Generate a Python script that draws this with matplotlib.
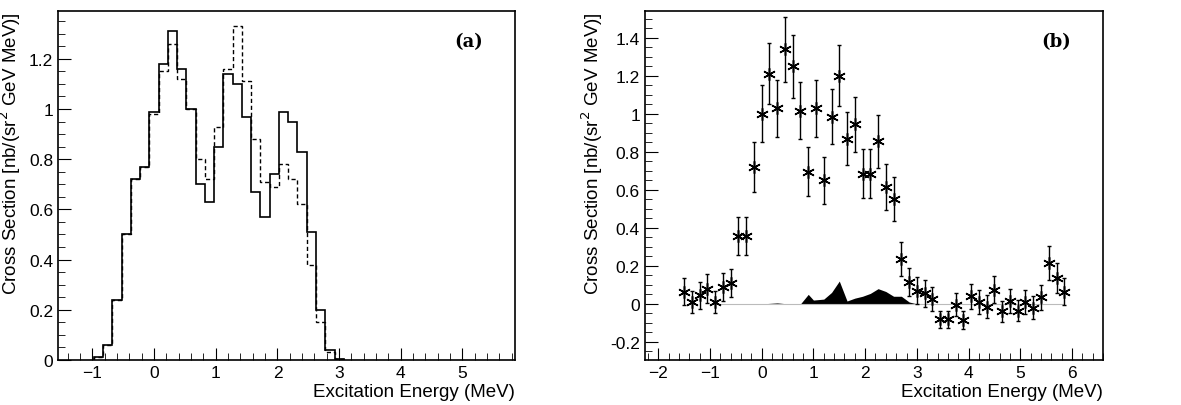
import numpy as np
import matplotlib.pyplot as plt
from matplotlib.ticker import MultipleLocator

# panel (a): histograms, bins of 0.15 MeV
edges_a = np.round(-0.975 + 0.15 * np.arange(28), 3)
solid_a = [0.01, 0.06, 0.24, 0.50, 0.72, 0.77, 0.99, 1.18, 1.31, 1.16, 1.00, 0.70, 0.63, 0.85,
           1.14, 1.10, 0.97, 0.67, 0.57, 0.74, 0.99, 0.95, 0.83, 0.51, 0.20, 0.04, 0.005]
dashed_a = [0.01, 0.06, 0.24, 0.50, 0.72, 0.77, 0.98, 1.15, 1.26, 1.12, 1.00, 0.80, 0.72, 0.93,
            1.16, 1.33, 1.11, 0.88, 0.71, 0.69, 0.78, 0.72, 0.62, 0.38, 0.15, 0.03, 0.005]

# panel (b): data points with errors
x_b = np.round(-1.5 + 0.15 * np.arange(50), 3)
y_b = [0.065, 0.01, 0.045, 0.08, 0.01, 0.09, 0.11, 0.355, 0.355, 0.72,
       1.00, 1.21, 1.03, 1.34, 1.25, 1.015, 0.695, 1.03, 0.65, 0.985,
       1.20, 0.87, 0.945, 0.685, 0.685, 0.855, 0.615, 0.55, 0.235, 0.115,
       0.07, 0.055, 0.025, -0.08, -0.08, -0.005, -0.085, 0.04, 0.01, -0.015,
       0.075, -0.04, 0.015, -0.035, 0.01, -0.02, 0.035, 0.215, 0.135, 0.065]
err_b = [0.07, 0.06, 0.07, 0.075, 0.06, 0.075, 0.075, 0.10, 0.10, 0.13,
         0.15, 0.16, 0.15, 0.17, 0.165, 0.15, 0.13, 0.15, 0.125, 0.145,
         0.16, 0.14, 0.145, 0.13, 0.13, 0.14, 0.12, 0.115, 0.09, 0.075,
         0.07, 0.07, 0.065, 0.045, 0.045, 0.06, 0.045, 0.065, 0.065, 0.06,
         0.07, 0.055, 0.065, 0.055, 0.065, 0.06, 0.065, 0.09, 0.08, 0.07]

# background contribution (filled)
x_bg = [0.0, 0.3, 0.5, 0.75, 0.9, 1.0, 1.2, 1.35, 1.5, 1.65, 1.8, 1.95, 2.1, 2.25, 2.4, 2.55, 2.7, 2.85, 3.0]
y_bg = [0.0, 0.005, 0.0, 0.0, 0.05, 0.02, 0.025, 0.06, 0.12, 0.015, 0.03, 0.04, 0.055, 0.08, 0.065, 0.04, 0.04, 0.01, 0.0]

plt.rcParams['font.family'] = ['Liberation Sans', 'DejaVu Sans']
fig = plt.figure(figsize=(11.81, 4.06), dpi=100)
ax1 = fig.add_axes([0.049, 0.111, 0.387, 0.859])
ax2 = fig.add_axes([0.546, 0.111, 0.388, 0.859])

ax1.stairs(solid_a, edges_a, color='black', lw=1.2)
ax1.stairs(dashed_a, edges_a, color='black', lw=1.0, ls=(0, (3, 2)))
ax1.set_xlim(-1.56, 5.85)
ax1.set_ylim(0, 1.39)
ax1.xaxis.set_major_locator(MultipleLocator(1))
ax1.xaxis.set_minor_locator(MultipleLocator(0.2))
ax1.yaxis.set_minor_locator(MultipleLocator(0.05))
ax1.set_yticks(np.round(np.arange(0, 1.21, 0.2), 1))
ax1.set_yticklabels(['0', '0.2', '0.4', '0.6', '0.8', '1', '1.2'])
ax1.text(0.93, 0.9, '(a)', transform=ax1.transAxes, ha='right', family='DejaVu Serif',
         fontweight='bold', fontsize=13)

ax2.plot([-1.0, 5.85], [0, 0], color='#bbbbbb', lw=0.8)
ax2.fill_between(x_bg, 0, y_bg, color='black', lw=0)
ax2.errorbar(x_b, y_b, yerr=err_b, fmt='none', ecolor='black', elinewidth=1.0, capsize=1.5)
ax2.plot(x_b, y_b, ls='none', marker=(6, 2, 0), color='black', ms=9, mew=1.1)
ax2.set_xlim(-2.26, 6.6)
ax2.set_ylim(-0.295, 1.54)
ax2.xaxis.set_major_locator(MultipleLocator(1))
ax2.xaxis.set_minor_locator(MultipleLocator(0.2))
ax2.yaxis.set_minor_locator(MultipleLocator(0.05))
ax2.set_yticks(np.round(np.arange(-0.2, 1.41, 0.2), 1))
ax2.set_yticklabels(['-0.2', '0', '0.2', '0.4', '0.6', '0.8', '1', '1.2', '1.4'])
ax2.text(0.93, 0.9, '(b)', transform=ax2.transAxes, ha='right', family='DejaVu Serif',
         fontweight='bold', fontsize=13)

for ax in (ax1, ax2):
    ax.tick_params(which='both', direction='in', top=False, right=False, labelsize=12.5)
    ax.tick_params(which='major', length=9)
    ax.tick_params(which='minor', length=5)
    ax.set_xlabel('Excitation Energy (MeV)', fontsize=13.5, loc='right', labelpad=2)
    ax.set_ylabel('Cross Section [nb/(sr$^2$ GeV MeV)]', fontsize=13.5, loc='top')
    for s in ax.spines.values():
        s.set_linewidth(1.2)

fig.savefig('out.png', dpi=100)
